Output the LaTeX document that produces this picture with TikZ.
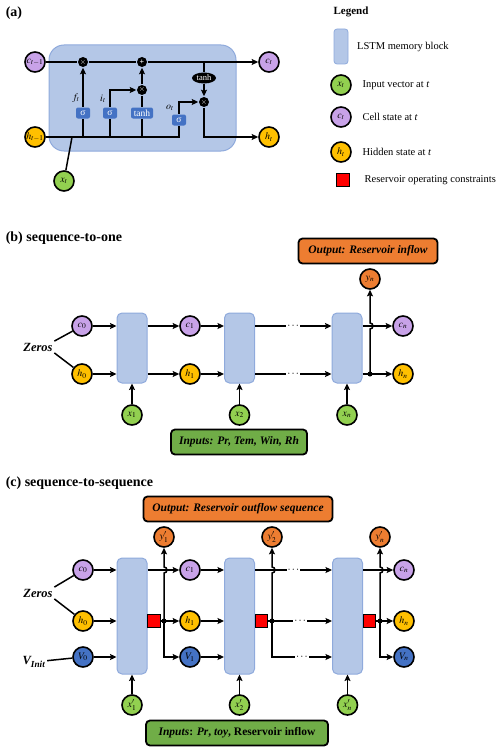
\documentclass[tikz,border=0pt]{standalone}
\usepackage{mathptmx}
\usepackage{fontspec}
\setmainfont{Liberation Serif}
\usetikzlibrary{positioning,arrows.meta,shapes.geometric}
\definecolor{cellc}{HTML}{C8A2E8}
\definecolor{hidc}{HTML}{FFC000}
\definecolor{inc}{HTML}{92D050}
\definecolor{outc}{HTML}{ED7D31}
\definecolor{volc}{HTML}{4472C4}
\definecolor{blkc}{HTML}{B4C7E7}
\definecolor{blkline}{HTML}{8FAADC}
\definecolor{boxg}{HTML}{70AD47}

\begin{document}
\begin{tikzpicture}[x=1pt, y=-1pt, >={Stealth[length=6.5pt,width=6pt,inset=1.2pt]}, line width=1.5pt,
	state/.style={draw, circle, line width=1.6pt, minimum size=20pt, inner sep=0pt, font=\fontsize{10}{10}\selectfont},
	cst/.style={state, fill=cellc},
	hst/.style={state, fill=hidc},
	xst/.style={state, fill=inc},
	yst/.style={state, fill=outc},
	vst/.style={state, fill=volc},
	lstm/.style={draw=blkline, line width=1pt, fill=blkc, rounded corners=5pt, minimum width=30pt, inner sep=0pt},
	sig/.style={fill=volc, text=white, rounded corners=2pt, minimum width=14pt, minimum height=11pt, inner sep=1pt, font=\fontsize{9.5}{10}\selectfont},
	op/.style={circle, fill=black, text=white, minimum size=10pt, inner sep=0pt, font=\fontsize{8}{8}\selectfont\bfseries},
	jn/.style={circle, fill=black, minimum size=5pt, inner sep=0pt},
	cons/.style={draw, fill=red, line width=1.2pt, minimum size=12.5pt, inner sep=0pt},
	task/.style={draw, line width=1.8pt, rounded corners=4pt, minimum height=25pt, font=\fontsize{11.5}{13}\selectfont\bfseries},
	title/.style={anchor=west, inner sep=0pt, font=\fontsize{14}{16}\selectfont\bfseries},
	txt/.style={inner sep=0pt, font=\fontsize{10.5}{12}\selectfont},
	lab/.style={inner sep=1pt, font=\fontsize{12.5}{14}\selectfont\bfseries\itshape},
	gatelab/.style={inner sep=0pt, font=\fontsize{10}{10}\selectfont},
	dotsgap/.style={fill=white, inner sep=1pt, font=\fontsize{11}{11}\selectfont}]

\useasboundingbox (0,0) rectangle (500,752);

% (a)
\node[title] (TA) at (5,13) {(a)};
\node[draw=blkline, fill=blkc, line width=1pt, rounded corners=15pt, minimum width=187pt, minimum height=106pt] (BIG) at (142.5,98) {};
\node[cst] (CP) at (35,62) {$c_{t-1}$};
\node[cst] (CT) at (269,62) {$c_t$};
\node[hst] (HP) at (35,137) {$h_{t-1}$};
\node[hst] (HT) at (269,137) {$h_t$};
\node[xst] (XT) at (64,181) {$x_t$};
\node[op] (M1) at (83,62) {$\times$};
\node[op] (A1) at (142,62) {+};
\node[op] (M2) at (142,90) {$\times$};
\node[op] (M3) at (204,102) {$\times$};
\node[op, ellipse, minimum width=24pt, minimum height=11pt, font=\fontsize{8.5}{9}\selectfont] (TH) at (204,78) {tanh};
\node[sig] (SF) at (83,113) {σ};
\node[sig] (SI) at (110,113) {σ};
\node[sig, minimum width=22pt] (TG) at (142,113) {tanh};
\node[sig] (SO) at (179,120) {σ};
\node[gatelab] (LF) at (76,98) {$f_t$};
\node[gatelab] (LI) at (103,99) {$i_t$};
\node[gatelab] (LO) at (170,108) {$o_t$};
\coordinate (XJ) at (72,137);

\draw[->] (CP) -- (M1) -- (A1) -- (CT);
\draw (TH) -- (TH |- CT);
\draw[->] (TH) -- (M3);
\draw (HP) -| (SO);
\foreach \g in {SF, SI, TG} \draw (\g) -- (\g |- HP);
\draw[->] (SF) -- (M1);
\draw[->] (SI) |- (M2);
\draw (TG) -- (M2);
\draw[->] (M2) -- (A1);
\draw[->] (SO) |- (M3);
\draw[->] (M3) |- (HT);
\draw (XT) to[out=80,in=-100] (XJ);

% legend
\node[txt, font=\fontsize{11}{12}\selectfont\bfseries] (LG) at (351,12) {Legend};
\node[lstm, minimum width=14pt, minimum height=35pt, line width=0.8pt, rounded corners=3pt] (LB) at (341,46.5) {};
\node[txt, right=8pt of LB] (TLB) {LSTM memory block};
\node[xst] (LX) at (341,85) {$x_t$};
\node[txt, right=10pt of LX] (TLX) {Input vector at \textit{t}};
\node[cst] (LC) at (341,117) {$c_t$};
\node[txt, right=10pt of LC] (TLC) {Cell state at \textit{t}};
\node[hst] (LH) at (341,152) {$h_t$};
\node[txt, right=10pt of LH] (TLH) {Hidden state at \textit{t}};
\node[cons] (LR) at (343,180) {};
\node[txt, right=14pt of LR] (TLR) {Reservoir operating constraints};

% (b)
\node[title] (TB) at (5,238) {(b) sequence-to-one};
\node[lstm, minimum height=70pt] (B1) at (132,348) {};
\node[lstm, minimum height=70pt] (B2) at (239.5,348) {};
\node[lstm, minimum height=70pt] (B3) at (347,348) {};
\node[cst] (C0) at (82,326) {$c_0$};
\node[hst] (H0) at (82,374) {$h_0$};
\node[lab] (Z1) at (38,347) {Zeros};
\node[cst] (C1) at (190,326) {$c_1$};
\node[hst] (H1) at (190,374) {$h_1$};
\node[cst] (CN) at (403,326) {$c_n$};
\node[hst] (HN) at (403,374) {$h_n$};
\node[yst] (YN) at (370,279) {$y_n$};
\node[xst] (X1) at (132,415) {$x_1$};
\node[xst] (X2) at (239.5,415) {$x_2$};
\node[xst] (XN) at (347,415) {$x_n$};
\node[task, fill=outc, minimum width=139pt] (OB) at (368,251) {\itshape Output: Reservoir inflow};
\node[task, fill=boxg, minimum width=136pt] (IB) at (239,442) {\itshape Inputs: Pr, Tem, Win, Rh};
\node[jn] (J1) at (370,374) {};

\draw (Z1.north east) -- (C0);
\draw (Z1.south east) -- (H0);
\foreach \a/\b in {C0/B1, H0/B1, C1/B2, H1/B2} \draw[->] (\a) -- (\a -| \b.west);
\foreach \a/\b in {B1/C1, B1/H1, B3/CN, B3/HN} \draw[->] (\a.east |- \b) -- (\b);
\foreach \a in {C1, H1} \draw[->] (B2.east |- \a) -- node[dotsgap]{$\cdots$} (B3.west |- \a);
\foreach \a/\b in {X1/B1, X2/B2, XN/B3} \draw[->] (\a) -- (\b);
\draw[->] (J1.center) -- ++(0,-45) arc[start angle=-90, end angle=90, radius=3pt] -- (YN);

% (c)
\node[title] (TC) at (5,483) {(c) sequence-to-sequence};
\node[lstm, minimum height=116pt] (D1) at (132,616) {};
\node[lstm, minimum height=116pt] (D2) at (239.5,616) {};
\node[lstm, minimum height=116pt] (D3) at (347.5,616) {};
\node[cst] (C0s) at (83,570) {$c_0$};
\node[hst] (H0s) at (83,621) {$h_0$};
\node[vst] (V0) at (83,657) {$V_0$};
\node[lab] (Z2) at (38,593) {Zeros};
\node[lab] (VI) at (34,662) {V\textsubscript{Init}};
\node[cst] (C1s) at (190,570) {$c_1$};
\node[hst] (H1s) at (190,621) {$h_1$};
\node[vst] (V1) at (190,657) {$V_1$};
\node[cst] (CNs) at (404,570) {$c_n$};
\node[hst] (HNs) at (404,621) {$h_n$};
\node[vst] (VN) at (404,657) {$V_n$};
\node[yst] (Y1) at (164,537) {$y'_1$};
\node[yst] (Y2) at (272,537) {$y'_2$};
\node[yst] (YNs) at (380,537) {$y'_n$};
\node[xst] (XP1) at (132,705) {$x'_1$};
\node[xst] (XP2) at (239.5,705) {$x'_2$};
\node[xst] (XPN) at (347.5,705) {$x'_n$};
\node[cons] (R1) at (154,621) {};
\node[cons] (R2) at (261.5,621) {};
\node[cons] (R3) at (369.5,621) {};
\node[jn] (K1) at (164,621) {};
\node[jn] (K2) at (272,621) {};
\node[jn] (K3) at (380,621) {};
\node[task, fill=outc, minimum width=189pt] (OB2) at (238,509) {\itshape Output: Reservoir outflow sequence};
\node[task, fill=boxg, minimum width=182pt] (IB2) at (237,733) {\textit{Inputs}: \textit{Pr}, \textit{toy}, Reservoir inflow};

\draw (Z2.north east) -- (C0s);
\draw (Z2.south east) -- (H0s);
\draw (VI) -- (V0);
\foreach \a/\b in {C0s/D1, H0s/D1, V0/D1, C1s/D2, H1s/D2, V1/D2} \draw[->] (\a) -- (\a -| \b.west);
\foreach \a/\b in {D1/C1s, D3/CNs} \draw[->] (\a.east |- \b) -- (\b);
\foreach \r/\k/\h/\v/\y in {R1/K1/H1s/V1/Y1, R3/K3/HNs/VN/YNs} {
	\draw[->] (\r) -- (\h);
	\draw[->] (\k.center) |- (\v);
	\draw[->] (\k.center) -- ++(0,-48) arc[start angle=-90, end angle=90, radius=3pt] -- (\y);
}
\draw[->] (D2.east |- C1s) -- node[dotsgap]{$\cdots$} (D3.west |- C1s);
\draw[->] (R2) -- node[dotsgap]{$\cdots$} (D3.west |- R2);
\draw[->] (K2.center) |- node[dotsgap, pos=0.75]{$\cdots$} (D3.west |- V1);
\draw[->] (K2.center) -- ++(0,-48) arc[start angle=-90, end angle=90, radius=3pt] -- (Y2);
\foreach \a/\b in {XP1/D1, XP2/D2, XPN/D3} \draw[->] (\a) -- (\b);
\end{tikzpicture}
\end{document}
